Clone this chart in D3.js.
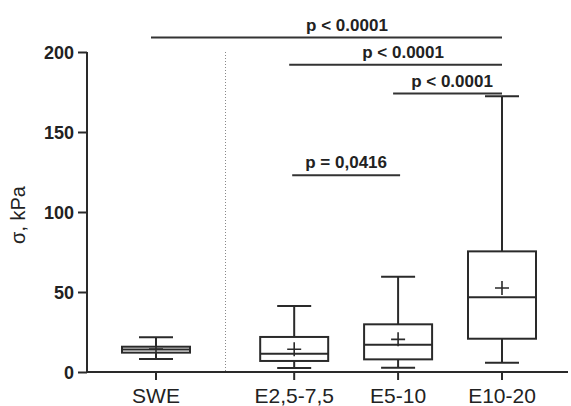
<!DOCTYPE html>
<html lang="en">
	<head>
		<meta charset="utf-8">
		<title>Box plot, sigma kPa</title>
		<script type="text/javascript" src="https://cdn.jsdelivr.net/npm/d3@7"></script>
		<style type="text/css">
			body { margin: 0; background: #fff; }
			text { font-family: "Liberation Sans", Arial, sans-serif; fill: #222; }
		</style>
	</head>
	<body>
		<script type="text/javascript">
			//Width and height
			var w = 571;
			var h = 406;

			//Data
			var categories  = ["SWE", "E2,5-7,5", "E5-10", "E10-20"];
			var whiskerLow  = [8.1, 2.5, 2.7, 5.8];
			var q1          = [12.1, 6.9, 7.9, 20.8];
			var median      = [14.0, 11.4, 17.1, 46.7];
			var q3          = [15.8, 21.9, 29.8, 75.4];
			var whiskerHigh = [21.7, 41.2, 59.6, 172.3];
			var mean        = [14.3, 14.2, 20.4, 52.5];
			var yTicks      = [0, 50, 100, 150, 200];

			//Significance bars
			var compFrom  = [0, 1, 2, 1];
			var compTo    = [3, 3, 3, 2];
			var compLevel = [209, 192, 174, 123];
			var compLabel = ["p < 0.0001", "p < 0.0001", "p < 0.0001", "p = 0,0416"];

			var boxW = 68;
			var capW = 34;
			var ink = "#2a2a2a";

			//SWE stands apart from the E groups
			var slot = function(i) { return i === 0 ? 0 : i + 0.33; };

			var x = d3.scaleLinear()
						.domain([0, 3.33])
						.range([156, 502]);

			var y = d3.scaleLinear()
						.domain([0, 200])
						.range([372, 52]);

			var svg = d3.select("body")
						.append("svg")
						.attr("width", w)
						.attr("height", h);

			//Y axis
			var yAxis = d3.axisLeft(y)
							.tickValues(yTicks)
							.tickSize(9)
							.tickPadding(4);
			var gy = svg.append("g")
						.attr("transform", "translate(87,0)")
						.call(yAxis);
			gy.select(".domain").attr("stroke", ink).attr("stroke-width", 2).attr("d", "M0," + y(200) + "V" + y(0));
			gy.selectAll(".tick line").attr("stroke", ink).attr("stroke-width", 2);
			gy.selectAll(".tick text")
				.style("font-size", "18px")
				.style("font-weight", "bold")
				.attr("dy", "0.35em");

			//X axis
			var gx = svg.append("g")
						.attr("transform", "translate(0," + y(0) + ")");
			gx.append("line")
				.attr("x1", 86).attr("x2", 568)
				.attr("stroke", ink).attr("stroke-width", 2);
			var xt = gx.selectAll("g.xtick")
						.data(categories)
						.enter()
						.append("g")
						.attr("class", "xtick")
						.attr("transform", function(d, i) { return "translate(" + x(slot(i)) + ",0)"; });
			xt.append("line")
				.attr("y1", 0).attr("y2", 8)
				.attr("stroke", ink).attr("stroke-width", 2);
			xt.append("text")
				.attr("y", 31)
				.attr("text-anchor", "middle")
				.style("font-size", "21px")
				.text(function(d) { return d; });

			//Y label
			svg.append("text")
				.attr("transform", "translate(25,215) rotate(-90)")
				.attr("text-anchor", "middle")
				.style("font-size", "20px")
				.text("σ, kPa");

			//Dotted separator
			svg.append("line")
				.attr("x1", 225.5).attr("x2", 225.5)
				.attr("y1", y(200)).attr("y2", y(0))
				.attr("stroke", "#888")
				.attr("stroke-width", 1)
				.attr("stroke-dasharray", "1,2");

			//Boxes
			var boxes = svg.selectAll("g.box")
							.data(categories)
							.enter()
							.append("g")
							.attr("class", "box")
							.attr("stroke", ink)
							.attr("stroke-width", 2)
							.attr("fill", "none");

			boxes.append("line")
				.attr("x1", function(d, i) { return x(slot(i)); })
				.attr("x2", function(d, i) { return x(slot(i)); })
				.attr("y1", function(d, i) { return y(whiskerHigh[i]); })
				.attr("y2", function(d, i) { return y(whiskerLow[i]); });

			boxes.append("rect")
				.attr("x", function(d, i) { return x(slot(i)) - boxW / 2; })
				.attr("y", function(d, i) { return y(q3[i]); })
				.attr("width", boxW)
				.attr("height", function(d, i) { return y(q1[i]) - y(q3[i]); })
				.attr("fill", "#fff");

			boxes.append("line")
				.attr("x1", function(d, i) { return x(slot(i)) - boxW / 2; })
				.attr("x2", function(d, i) { return x(slot(i)) + boxW / 2; })
				.attr("y1", function(d, i) { return y(median[i]); })
				.attr("y2", function(d, i) { return y(median[i]); });

			[whiskerHigh, whiskerLow].forEach(function(arr) {
				boxes.append("line")
					.attr("x1", function(d, i) { return x(slot(i)) - capW / 2; })
					.attr("x2", function(d, i) { return x(slot(i)) + capW / 2; })
					.attr("y1", function(d, i) { return y(arr[i]); })
					.attr("y2", function(d, i) { return y(arr[i]); });
			});

			//Mean marker (+)
			boxes.append("path")
				.attr("stroke-width", 1.6)
				.attr("d", function(d, i) {
					var cx = x(slot(i)), cy = y(mean[i]);
					return "M" + (cx - 7) + "," + cy + "H" + (cx + 7) + "M" + cx + "," + (cy - 7) + "V" + (cy + 7);
				});

			//Significance bars and labels
			var labelShift = [18, 5, 2, 0];
			var comps = svg.selectAll("g.comp")
							.data(compLabel)
							.enter()
							.append("g")
							.attr("class", "comp");
			comps.append("line")
				.attr("x1", function(d, i) { return x(slot(compFrom[i])) - (i < 3 ? 5 : 2); })
				.attr("x2", function(d, i) { return x(slot(compTo[i])) + (i < 3 ? 0 : 2); })
				.attr("y1", function(d, i) { return y(compLevel[i]); })
				.attr("y2", function(d, i) { return y(compLevel[i]); })
				.attr("stroke", "#333")
				.attr("stroke-width", 2);
			comps.append("text")
				.attr("x", function(d, i) { return (x(slot(compFrom[i])) + x(slot(compTo[i]))) / 2 + labelShift[i]; })
				.attr("y", function(d, i) { return y(compLevel[i]) - 7; })
				.attr("text-anchor", "middle")
				.style("font-size", "17px")
				.style("font-weight", "bold")
				.text(function(d) { return d; });
		</script>
	</body>
</html>
